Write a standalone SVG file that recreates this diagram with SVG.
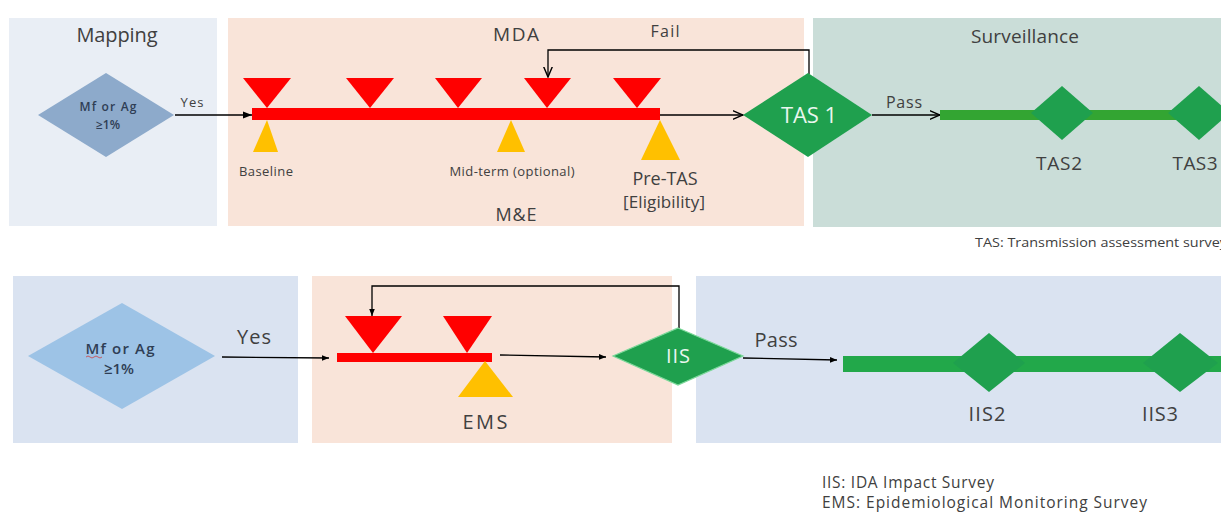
<svg xmlns="http://www.w3.org/2000/svg" width="1221" height="514" viewBox="0 0 1221 514">
<style>
text{font-family:"Open Sans","Liberation Sans",sans-serif;fill:#404040}
.c{text-anchor:middle}
.w{fill:#EAF6EE}
.ln{fill:none;stroke:#000;stroke-width:1.3}
.red{fill:#FF0000}
.yel{fill:#FFC000}
.gd{fill:#1FA04E}
.dk{fill:#2F3E55}
</style>
<defs>
<marker id="open" viewBox="0 0 10 10" refX="9.5" refY="5" markerWidth="11" markerHeight="11" orient="auto" markerUnits="userSpaceOnUse"><path d="M0,1 L9.5,5 L0,9" fill="none" stroke="#000" stroke-width="1.3"/></marker>
<marker id="fill" viewBox="0 0 10 10" refX="10" refY="5" markerWidth="9" markerHeight="9" orient="auto" markerUnits="userSpaceOnUse"><path d="M0,1 L10,5 L0,9 z" fill="#000"/></marker>
<marker id="fills" viewBox="0 0 10 10" refX="10" refY="5" markerWidth="7" markerHeight="7" orient="auto" markerUnits="userSpaceOnUse"><path d="M0,1 L10,5 L0,9 z" fill="#000"/></marker>
</defs>
<rect width="1221" height="514" fill="#fff"/>
<g id="panels">
<rect x="9" y="18" width="208" height="208" fill="#E9EEF5"/>
<rect x="228" y="18" width="576" height="208" fill="#F9E4D9"/>
<rect x="813" y="18" width="408" height="209" fill="#CADDD8"/>
<rect x="13" y="276" width="285" height="167" fill="#DAE3F1"/>
<rect x="312" y="276" width="360" height="167" fill="#F9E4D9"/>
<rect x="696" y="276" width="525" height="167" fill="#DAE3F1"/>
</g>
<g id="panel-labels">
<text x="117" y="42" class="c" font-size="20" textLength="81">Mapping</text>
<text x="516" y="41" class="c" font-size="19" textLength="46">MDA</text>
<text x="516" y="221" class="c" font-size="18" textLength="41">M&amp;E</text>
<text x="1025" y="43" class="c" font-size="19" textLength="108">Surveillance</text>
</g>
<g id="connectors">
<line x1="175" y1="115" x2="252" y2="115" class="ln" marker-end="url(#fill)"/>
<line x1="660" y1="115" x2="743" y2="115" class="ln" marker-end="url(#open)"/>
<polyline points="809,74 809,50 548,50 548,77" class="ln" marker-end="url(#open)"/>
<line x1="872" y1="115" x2="940" y2="115" class="ln" marker-end="url(#open)"/>
<line x1="222" y1="357" x2="329" y2="358" class="ln" stroke-width="1.1" marker-end="url(#fills)"/>
<polyline points="679,328 679,286 372,286 372,316" class="ln" stroke-width="1.1" marker-end="url(#fills)"/>
<line x1="500" y1="355" x2="606" y2="357" class="ln" stroke-width="1.1" marker-end="url(#fills)"/>
<line x1="743" y1="358" x2="837" y2="360" class="ln" stroke-width="1.1" marker-end="url(#fills)"/>
<text x="192" y="107" class="c" font-size="13" textLength="23">Yes</text>
<text x="665" y="37" class="c" font-size="16" textLength="29">Fail</text>
<text x="904" y="108" class="c" font-size="16" textLength="36">Pass</text>
<text x="254" y="344" class="c" font-size="20" textLength="34">Yes</text>
<text x="776" y="347" class="c" font-size="20" textLength="43">Pass</text>
</g>
<g id="mapping-top">
<polygon points="106,73 174,115 106,157 38,115" fill="#8DAACB"/>
<text x="108" y="111" class="c dk" font-size="12" font-weight="600" textLength="57">Mf or Ag</text>
<text x="108" y="129" class="c dk" font-size="12" font-weight="600">≥1%</text>
</g>
<g id="mda-top">
<rect x="252" y="108" width="408" height="12" class="red"/>
<polygon points="243,78 291,78 267,108" class="red"/>
<polygon points="346,78 394,78 370,108" class="red"/>
<polygon points="435,78 482,78 458,108" class="red"/>
<polygon points="524,78 571,78 547,108" class="red"/>
<polygon points="613,78 661,78 637,108" class="red"/>
</g>
<g id="baseline">
<polygon points="267,120 278,152 253,152" class="yel"/>
<text x="266" y="176" class="c" font-size="13" textLength="54">Baseline</text>
</g>
<g id="midterm">
<polygon points="511,120 525,152 497,152" class="yel"/>
<text x="512" y="176" class="c" font-size="13" textLength="125">Mid-term (optional)</text>
</g>
<g id="pretas">
<polygon points="660,120 680,160 641,160" class="yel"/>
<text x="665" y="185" class="c" font-size="18" textLength="65">Pre-TAS</text>
<text x="664" y="208" class="c" font-size="17" textLength="82">[Eligibility]</text>
</g>
<g id="tas1">
<polygon points="808,73 872,115 808,157 743,115" class="gd"/>
<text x="809" y="123" class="c w" font-size="22" textLength="56">TAS 1</text>
</g>
<g id="surveillance-top">
<rect x="940" y="110" width="281" height="10" fill="#33A532"/>
<polygon points="1062,86 1093,113 1062,140 1031,113" class="gd"/>
<polygon points="1199,86 1230,113 1199,140 1168,113" class="gd"/>
<text x="1059" y="170" class="c" font-size="19" textLength="46">TAS2</text>
<text x="1195" y="170" class="c" font-size="19" textLength="45">TAS3</text>
</g>
<text x="975" y="247" font-size="13" textLength="252" lengthAdjust="spacingAndGlyphs">TAS: Transmission assessment survey</text>
<g id="mapping-bottom">
<polygon points="122,303 215,356 122,409 28,356" fill="#9DC3E6"/>
<text x="120" y="354" class="c dk" font-size="15" font-weight="600" textLength="69">Mf or Ag</text>
<path d="M86,357 q2,-2 4,0 t4,0 t4,0 t4,0" fill="none" stroke="#D04040" stroke-width="0.8"/>
<text x="119" y="374" class="c dk" font-size="15" font-weight="600">≥1%</text>
</g>
<g id="mda-bottom">
<rect x="337" y="353" width="155" height="9" class="red"/>
<polygon points="345,316 402,316 373,353" class="red"/>
<polygon points="443,316 492,316 467,353" class="red"/>
</g>
<g id="ems">
<polygon points="485,361 513,397 458,397" class="yel"/>
<text x="485" y="429" class="c" font-size="20" textLength="45">EMS</text>
</g>
<g id="iis">
<polygon points="678,328 743,356 678,385 613,356" class="gd" stroke="#7CD89A" stroke-width="1.2"/>
<text x="678" y="363" class="c w" font-size="20" textLength="24">IIS</text>
</g>
<g id="surveillance-bottom">
<rect x="843" y="356" width="378" height="16" fill="#22A84A"/>
<polygon points="989,333 1025,363 989,392 953,363" class="gd"/>
<polygon points="1180,333 1218,363 1180,392 1143,363" class="gd"/>
<text x="987" y="421" class="c" font-size="20" textLength="37">IIS2</text>
<text x="1160" y="421" class="c" font-size="20" textLength="36">IIS3</text>
</g>
<g id="legend">
<text x="822" y="488" font-size="15.5" textLength="172">IIS: IDA Impact Survey</text>
<text x="822" y="508" font-size="15.5" textLength="325">EMS: Epidemiological Monitoring Survey</text>
</g>
</svg>
